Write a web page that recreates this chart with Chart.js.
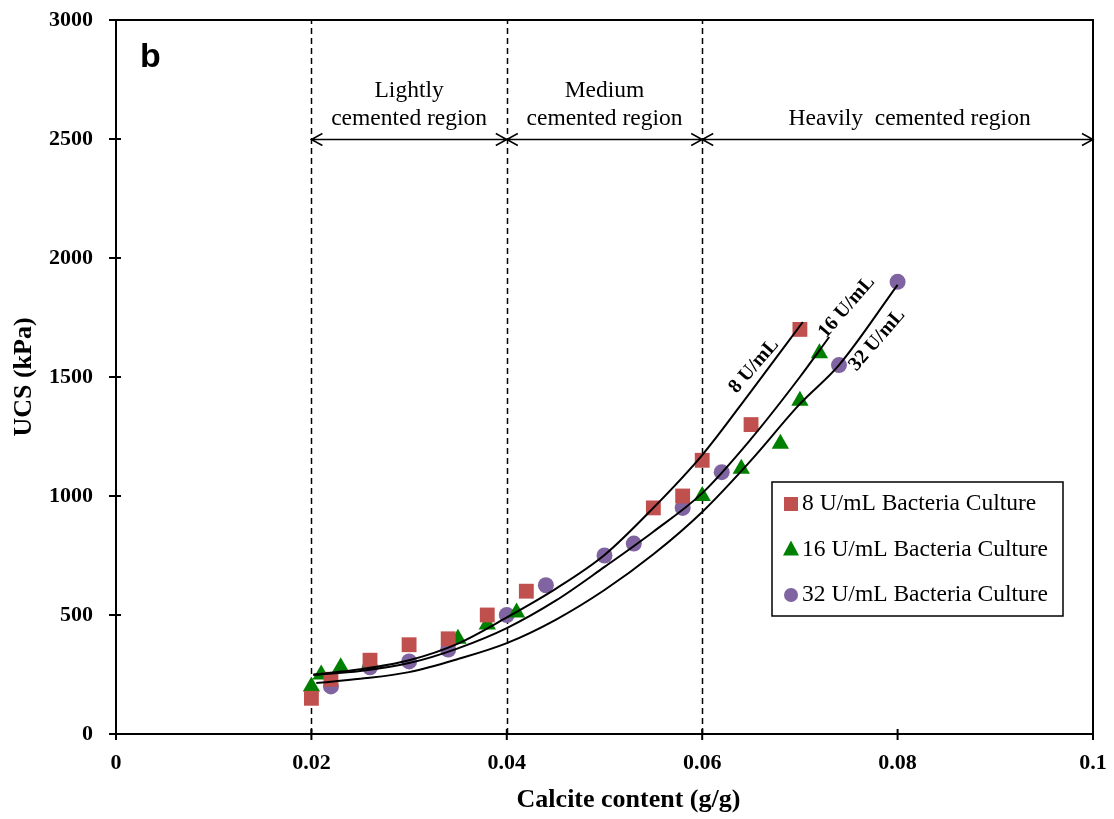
<!DOCTYPE html>
<html>
<head>
<meta charset="utf-8">
<script src="https://cdn.jsdelivr.net/npm/chart.js@4.4.0/dist/chart.umd.min.js"></script>
<style>
html, body { margin: 0; padding: 0; background: #fff; }
#wrap { width: 1114px; height: 819px; }
</style>
</head>
<body>
<div id="wrap"><canvas id="graph" width="1114" height="819"></canvas></div>
<script>
// measured UCS points
const x8 = [0.02, 0.022, 0.026, 0.03, 0.034, 0.038, 0.042, 0.055, 0.058, 0.06, 0.065, 0.07];
const y8 = [150, 230, 310, 375, 400, 500, 600, 950, 1000, 1150, 1300, 1700];
const x16 = [0.02, 0.021, 0.023, 0.026, 0.035, 0.038, 0.041, 0.06, 0.064, 0.068, 0.07, 0.072];
const y16 = [200, 250, 280, 300, 400, 460, 510, 1000, 1115, 1220, 1400, 1600];
const x32 = [0.022, 0.026, 0.03, 0.034, 0.04, 0.044, 0.05, 0.053, 0.058, 0.062, 0.074, 0.08];
const y32 = [200, 280, 305, 355, 500, 625, 750, 800, 950, 1100, 1550, 1900];

// trend curves
const fit8X = [0.0202, 0.025, 0.03, 0.035, 0.04, 0.045, 0.05, 0.055, 0.06, 0.065, 0.0703];
const fit8Y = [250, 272, 310, 380, 490, 610, 752, 950, 1172, 1440, 1731];
const fit16X = [0.0202, 0.025, 0.03, 0.035, 0.04, 0.045, 0.05, 0.055, 0.06, 0.065, 0.07, 0.073];
const fit16Y = [248, 265, 298, 360, 445, 560, 702, 850, 1012, 1240, 1500, 1668];
const fit32X = [0.0205, 0.025, 0.03, 0.035, 0.04, 0.045, 0.05, 0.055, 0.06, 0.065, 0.07, 0.074, 0.08];
const fit32Y = [214, 232, 260, 315, 382, 480, 605, 755, 933, 1150, 1387, 1550, 1887];

const seriesNames = ['8 U/mL Bacteria Culture', '16 U/mL Bacteria Culture', '32 U/mL Bacteria Culture'];
const curveTags = ['8 U/mL', '16 U/mL', '32 U/mL'];
const regionEdges = [0.02, 0.04, 0.06, 0.1];
const regionNames = [['Lightly', 'cemented region'], ['Medium', 'cemented region'], ['Heavily  cemented region']];
const regionArrowAt = 2500;
const xTickLabels = ['0', '0.02', '0.04', '0.06', '0.08', '0.1'];
const xTitle = 'Calcite content (g/g)';

const SERIF = '"Liberation Serif", "Times New Roman", serif';

function pts(xs, ys) {
    return xs.map((x, i) => ({ x: x, y: ys[i] }));
}

function pointSet(label, xs, ys, color, style, radius) {
    return {
        label: label,
        data: pts(xs, ys),
        pointStyle: style,
        pointRadius: radius,
        pointHoverRadius: radius,
        backgroundColor: color,
        borderWidth: 0,
        showLine: false,
        order: 2
    };
}

function fitSet(label, xs, ys) {
    return {
        label: label,
        data: pts(xs, ys),
        showLine: true,
        pointRadius: 0,
        borderColor: '#000',
        borderWidth: 2,
        cubicInterpolationMode: 'monotone',
        fill: false,
        order: 1
    };
}

function noPad(s) {
    s.paddingTop = 0;
    s.paddingBottom = 0;
    s.paddingLeft = 0;
    s.paddingRight = 0;
}

function drawMarker(ctx, style, x, y, color) {
    ctx.fillStyle = color;
    ctx.beginPath();
    if (style === 'rect') {
        ctx.rect(x - 7, y - 7, 14, 14);
    } else if (style === 'triangle') {
        ctx.moveTo(x, y - 9);
        ctx.lineTo(x + 8, y + 6);
        ctx.lineTo(x - 8, y + 6);
        ctx.closePath();
    } else {
        ctx.arc(x, y, 7, 0, Math.PI * 2);
    }
    ctx.fill();
}

const decor = {
    id: 'decor',
    beforeDatasetsDraw(chart) {
        const ctx = chart.ctx;
        const xs = chart.scales.x, ys = chart.scales.y;
        ctx.save();
        ctx.strokeStyle = '#000';
        ctx.lineWidth = 1.5;
        ctx.setLineDash([6, 4]);
        regionEdges.slice(0, 3).forEach(v => {
            const px = Math.round(xs.getPixelForValue(v)) + 0.5;
            ctx.beginPath();
            ctx.moveTo(px, ys.bottom);
            ctx.lineTo(px, ys.top);
            ctx.stroke();
        });
        ctx.restore();
    },
    afterDraw(chart) {
        const ctx = chart.ctx;
        const a = chart.chartArea;
        const xs = chart.scales.x, ys = chart.scales.y;
        ctx.save();

        // frame and crossing ticks
        ctx.strokeStyle = '#000';
        ctx.lineWidth = 2;
        ctx.strokeRect(a.left, a.top, a.right - a.left, a.bottom - a.top);
        ctx.beginPath();
        xs.ticks.forEach(t => {
            const px = xs.getPixelForValue(t.value);
            ctx.moveTo(px, a.bottom - 5);
            ctx.lineTo(px, a.bottom + 6);
        });
        ys.ticks.forEach(t => {
            const py = ys.getPixelForValue(t.value);
            ctx.moveTo(a.left - 7, py);
            ctx.lineTo(a.left + 5, py);
        });
        ctx.stroke();

        // x axis title, set a little right of centre as in the figure
        ctx.fillStyle = '#000';
        ctx.font = 'bold 26px ' + SERIF;
        ctx.textAlign = 'center';
        ctx.textBaseline = 'middle';
        ctx.fillText(xTitle, (a.left + a.right) / 2 + 24, a.bottom + 66);

        // region arrows and names
        const ay = Math.round(ys.getPixelForValue(regionArrowAt)) + 0.5;
        ctx.lineWidth = 1.5;
        ctx.font = '23.5px ' + SERIF;
        for (let i = 0; i < regionNames.length; i++) {
            const x0 = xs.getPixelForValue(regionEdges[i]);
            const x1 = xs.getPixelForValue(regionEdges[i + 1]);
            ctx.beginPath();
            ctx.moveTo(x0, ay);
            ctx.lineTo(x1, ay);
            ctx.moveTo(x0 + 11, ay - 6);
            ctx.lineTo(x0, ay);
            ctx.lineTo(x0 + 11, ay + 6);
            ctx.moveTo(x1 - 11, ay - 6);
            ctx.lineTo(x1, ay);
            ctx.lineTo(x1 - 11, ay + 6);
            ctx.stroke();
            const lines = regionNames[i];
            const cx = (x0 + x1) / 2 + (lines.length === 1 ? 12 : 0);
            lines.forEach((s, k) => {
                ctx.fillText(s, cx, ay - 21 - (lines.length - 1 - k) * 28);
            });
        }

        // labels along the trend curves
        const tagAt = chart.options.plugins.decor.tagAt;
        ctx.font = 'bold 20px ' + SERIF;
        curveTags.forEach((s, i) => {
            const px = xs.getPixelForValue(tagAt[i][0]);
            const py = ys.getPixelForValue(tagAt[i][1]);
            ctx.save();
            ctx.translate(px, py);
            ctx.rotate(-49 * Math.PI / 180);
            ctx.fillText(s, 0, 0);
            ctx.restore();
        });

        // panel letter
        ctx.font = 'bold 34px "Liberation Sans", Arial, sans-serif';
        ctx.textAlign = 'left';
        ctx.textBaseline = 'alphabetic';
        ctx.fillText('b', a.left + 24, a.top + 47);

        // legend box
        const lx = a.left + 656, ly = a.top + 462, lw = 291, lh = 134;
        ctx.fillStyle = '#fff';
        ctx.fillRect(lx, ly, lw, lh);
        ctx.lineWidth = 1.5;
        ctx.strokeRect(lx, ly, lw, lh);
        ctx.font = '23.5px ' + SERIF;
        ctx.textBaseline = 'middle';
        const sets = chart.data.datasets.filter(d => !d.showLine);
        sets.forEach((d, i) => {
            const yy = ly + 22 + i * 45.5;
            drawMarker(ctx, d.pointStyle, lx + 19, yy, d.backgroundColor);
            ctx.fillStyle = '#000';
            ctx.fillText(d.label, lx + 30, yy);
        });
        ctx.restore();
    }
};

const chart = new Chart(document.getElementById('graph').getContext('2d'), {
    type: 'scatter',
    data: {
        datasets: [
            pointSet(seriesNames[0], x8, y8, '#C0504D', 'rect', 10.5),
            pointSet(seriesNames[1], x16, y16, '#008000', 'triangle', 10),
            pointSet(seriesNames[2], x32, y32, '#8064A2', 'circle', 8),
            fitSet(curveTags[0], fit8X, fit8Y),
            fitSet(curveTags[1], fit16X, fit16Y),
            fitSet(curveTags[2], fit32X, fit32Y)
        ]
    },
    options: {
        responsive: false,
        animation: false,
        devicePixelRatio: 1,
        layout: { padding: { top: 20, right: 21, left: 0, bottom: 0 } },
        plugins: {
            legend: { display: false },
            tooltip: { enabled: false },
            decor: { tagAt: [[0.0653, 1546], [0.0748, 1794], [0.0779, 1655]] }
        },
        scales: {
            x: {
                type: 'linear',
                position: 'bottom',
                min: 0,
                max: 0.1,
                afterFit: s => { s.height = 85; noPad(s); },
                afterBuildTicks: s => {
                    s.ticks = xTickLabels.map(l => ({ value: parseFloat(l) }));
                },
                ticks: {
                    padding: 16,
                    color: '#000',
                    font: { family: SERIF, size: 22, weight: 'bold' },
                    maxRotation: 0,
                    callback: (v, i) => xTickLabels[i]
                },
                grid: { display: false, drawTicks: false },
                border: { display: false },
                title: { display: false }
            },
            y: {
                type: 'linear',
                min: 0,
                max: 3000,
                afterFit: s => { s.width = 116; noPad(s); },
                ticks: {
                    stepSize: 500,
                    padding: 23,
                    color: '#000',
                    font: { family: SERIF, size: 22, weight: 'bold' },
                    callback: v => String(v)
                },
                grid: { display: false, drawTicks: false },
                border: { display: false },
                title: {
                    display: true,
                    text: 'UCS (kPa)',
                    color: '#000',
                    font: { family: SERIF, size: 26, weight: 'bold' },
                    padding: { top: 9, bottom: 0 }
                }
            }
        }
    },
    plugins: [decor]
});
</script>
</body>
</html>
